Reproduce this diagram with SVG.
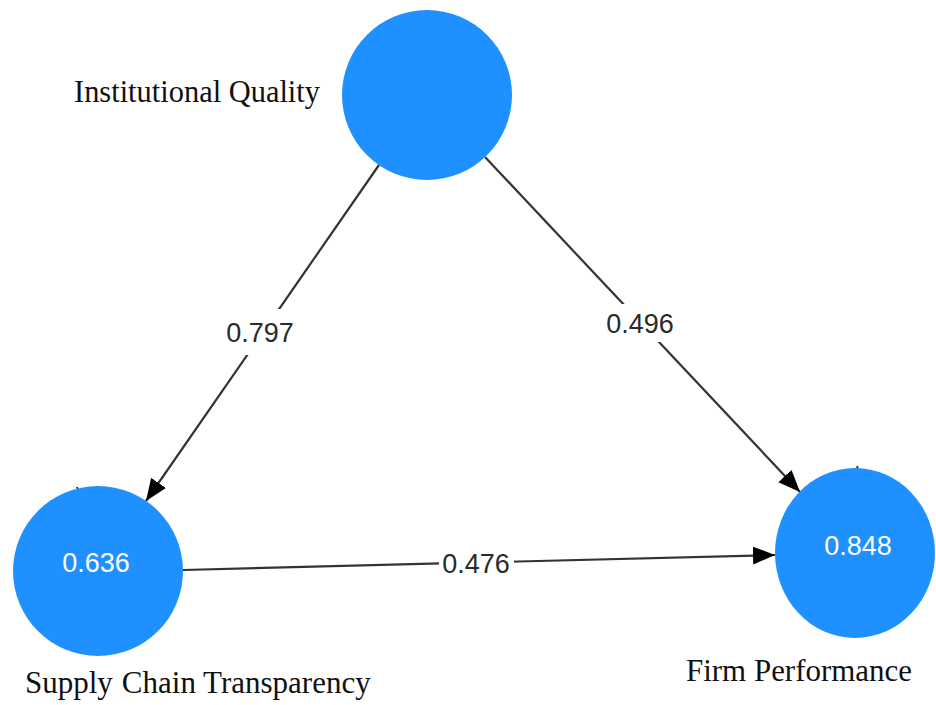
<svg xmlns="http://www.w3.org/2000/svg" width="936" height="705" viewBox="0 0 936 705">
  <style>
    .node { fill: #1E90FF; }
    .edge { stroke: #333333; stroke-width: 2.2; fill: none; marker-end: url(#arrow); }
    .weight { font-family: "Liberation Sans", Arial, sans-serif; font-size: 27px; fill: #2a2a2a; text-anchor: middle; }
    .value { font-family: "Liberation Sans", Arial, sans-serif; font-size: 27px; fill: #ffffff; text-anchor: middle; }
    .name { font-family: "Liberation Serif", "Times New Roman", serif; font-size: 31px; fill: #111111; }
    .pad { fill: #ffffff; }
    .tick { stroke: #333333; stroke-width: 2; }
  </style>
  <defs>
    <marker id="arrow" markerUnits="userSpaceOnUse" markerWidth="24" markerHeight="20" refX="22" refY="9" orient="auto">
      <path d="M0,0 L22,9 L0,18 z" fill="#000000"/>
    </marker>
  </defs>
  <rect width="936" height="705" fill="#ffffff"/>

  <!-- path coefficients -->
  <g id="connectors">
    <line class="edge" x1="379" y1="165" x2="146" y2="501"/>
    <line class="edge" x1="485" y1="157" x2="800" y2="492"/>
    <line class="edge" x1="183" y1="570" x2="775" y2="555"/>
    <rect class="pad" x="224" y="309" width="72" height="46"/>
    <text class="weight" x="260" y="342">0.797</text>
    <rect class="pad" x="603" y="304" width="73" height="38"/>
    <text class="weight" x="640" y="333">0.496</text>
    <rect class="pad" x="439" y="548" width="75" height="30"/>
    <text class="weight" x="476" y="573">0.476</text>
  </g>

  <g id="institutional-quality">
    <circle class="node" cx="427" cy="95" r="85"/>
    <text class="name" x="74" y="102" textLength="246" lengthAdjust="spacingAndGlyphs">Institutional Quality</text>
  </g>

  <g id="supply-chain-transparency">
    <line class="tick" x1="77" y1="487" x2="78" y2="490"/>
    <circle class="node" cx="98" cy="571" r="85"/>
    <text class="value" x="96" y="572">0.636</text>
    <text class="name" x="25" y="693">Supply<tspan dx="9">Chain Transparency</tspan></text>
  </g>

  <g id="firm-performance">
    <line class="tick" x1="857" y1="466" x2="858" y2="469"/>
    <ellipse class="node" cx="855" cy="553" rx="80" ry="85"/>
    <text class="value" x="858" y="555">0.848</text>
    <text class="name" x="686" y="681" textLength="226" lengthAdjust="spacingAndGlyphs">Firm Performance</text>
  </g>
</svg>
